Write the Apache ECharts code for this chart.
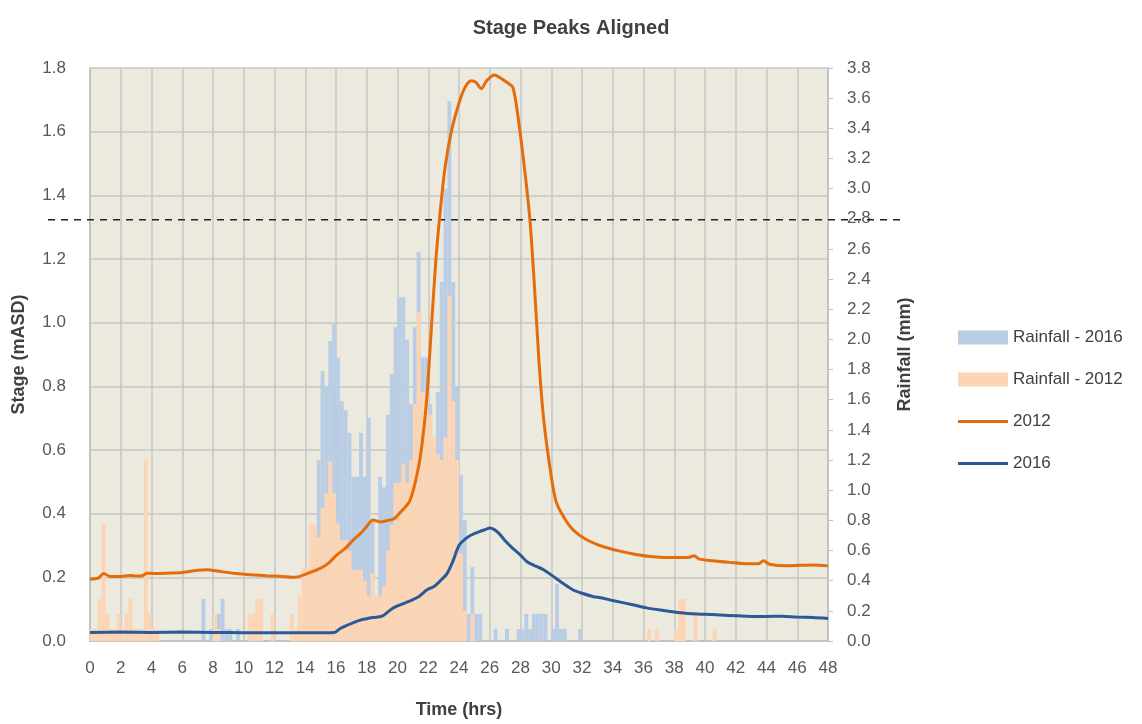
<!DOCTYPE html>
<html><head><meta charset="utf-8">
<script src="https://cdn.jsdelivr.net/npm/echarts@6/dist/echarts.min.js"></script>
<style>html,body{margin:0;padding:0;background:#fff}#c{width:1142px;height:724px}</style>
</head><body><div id="c"></div>
<script>
// ---- data ----
const rainStepHrs = 0.25; // each rainfall bar = 15 min
// Rainfall 2016 (mm per 15 min), one row per hour
const rain2016 = [
  0,0,0,0, 0,0,0,0, 0,0,0,0, 0,0,0,0, 0,0,0,0, 0,0,0,0, 0,0,0,0,
  0,0.28,0,0.08, 0,0.18,0.28,0.08, 0.08,0,0.08,0, 0,0,0,0, 0,0,0,0,
  0,0,0,0, 0,0,0,0, 0.2,0.5,0.7,1.2, 1.79,1.69,1.99,2.10, 1.88,1.59,1.53,1.38,
  1.09,1.09,1.38,1.09, 1.48,0.8,0.3,1.09, 1.02,1.5,1.77,2.08, 2.28,2.28,2.0,1.57,
  2.08,2.58,1.88,1.88, 1.57,1.1,1.65,2.38, 3.0,3.58,2.38,1.69, 1.1,0.8,0.18,0.49,
  0.18,0.18,0,0, 0,0.08,0,0, 0.08,0,0,0.08, 0.08,0.18,0.08,0.18, 0.18,0.18,0.18,0,
  0.08,0.38,0.08,0.08, 0,0,0,0.08,
  0,0,0,0, 0,0,0,0, 0,0,0,0, 0,0,0,0, 0,0,0,0, 0,0,0,0, 0,0,0,0, 0,0,0,0,
  0,0,0,0, 0,0,0,0, 0,0,0,0, 0,0,0,0, 0,0,0,0, 0,0,0,0, 0,0,0,0, 0,0,0,0
];
// Rainfall 2012 (mm per 15 min), one row per hour
const rain2012 = [
  0.08,0.08,0.28,0.78, 0.18,0.08,0.08,0.18, 0.08,0.18,0.28,0.08, 0.08,0.08,1.2,0.18,
  0.08,0.08,0,0, 0,0,0,0, 0,0,0,0, 0,0,0,0,
  0.18,0.08,0,0, 0,0,0,0, 0,0.18,0.18,0.28, 0.28,0,0,0.18, 0,0,0,0,
  0.18,0.08,0.3,0.49, 0.49,0.78,0.78,0.69, 0.88,0.98,1.19,0.98, 0.78,0.67,0.67,0.6,
  0.47,0.47,0.47,0.4, 0.3,0.45,0.3,0.3, 0.36,0.6,0.77,1.05, 1.05,1.17,1.05,1.2,
  1.57,2.18,1.65,1.65, 1.5,1.35,1.24,1.2, 1.35,2.29,1.59,1.2, 0.58,0.2,0,0.18,
  0,0,0,0, 0,0,0,0, 0,0,0,0, 0,0,0,0, 0,0,0,0, 0,0,0,0,
  0,0,0,0, 0,0,0,0, 0,0,0,0, 0,0,0,0, 0,0,0,0,
  0,0.08,0,0.08, 0,0,0,0, 0.08,0.28,0.28,0, 0,0.18,0,0, 0,0,0.08,0,
  0,0,0,0, 0,0,0,0, 0,0,0,0, 0,0,0,0, 0,0,0,0, 0,0,0,0, 0,0,0,0
];
// Stage 2012 (mASD)
const stageTime2012 = [0,0.5,0.9,1.3,2.0,2.6,3.0,3.4,3.7,4.2,5.0,6.0,7.0,7.6,8.5,9.5,10.5,11.5,12.5,13.3,14.2,15.0,15.5,16.0,16.6,17.1,17.6,18.0,18.4,18.9,19.3,19.8,20.2,20.8,21.3,21.6,21.9,22.2,22.5,22.8,23.1,23.5,24.0,24.4,24.8,25.1,25.45,25.8,26.3,26.8,27.2,27.5,27.8,28.2,28.6,28.9,29.2,29.5,29.9,30.3,30.8,31.4,32.3,33.4,34.4,35.5,36.6,38.0,39.0,39.3,39.6,40.5,41.6,42.7,43.5,43.8,44.2,45.3,46.2,47.0,48.0];
const stage2012 =     [0.195,0.197,0.212,0.203,0.203,0.206,0.204,0.205,0.213,0.212,0.213,0.215,0.222,0.224,0.218,0.212,0.208,0.205,0.203,0.200,0.213,0.229,0.244,0.268,0.291,0.316,0.338,0.36,0.38,0.374,0.378,0.385,0.405,0.44,0.53,0.62,0.76,0.98,1.2,1.36,1.49,1.60,1.69,1.74,1.76,1.755,1.735,1.76,1.778,1.765,1.752,1.74,1.66,1.51,1.33,1.12,0.88,0.70,0.55,0.44,0.39,0.35,0.318,0.296,0.283,0.272,0.265,0.262,0.263,0.268,0.258,0.252,0.247,0.243,0.243,0.252,0.241,0.236,0.238,0.239,0.236];
// Stage 2016 (mASD)
const stageTime2016 = [0,2,4,6,8,10,12,14,15.9,16.3,16.6,17.1,17.6,18.0,18.4,19.0,19.6,20.0,20.5,21.0,21.4,21.9,22.4,22.8,23.2,23.6,24.0,24.4,24.8,25.3,25.7,26.0,26.3,26.6,27.0,27.5,28.0,28.4,29.0,29.5,30.3,30.8,31.4,32.0,32.7,33.3,34.0,35.3,36.2,37.3,38.4,39.5,40.5,41.5,42.7,44.0,45.0,46.0,47.0,48.0];
const stage2016 =     [0.027,0.028,0.027,0.028,0.027,0.026,0.026,0.026,0.027,0.04,0.047,0.057,0.066,0.07,0.074,0.078,0.10,0.11,0.12,0.13,0.14,0.16,0.172,0.19,0.21,0.25,0.30,0.32,0.333,0.343,0.35,0.355,0.35,0.338,0.315,0.291,0.27,0.25,0.235,0.224,0.197,0.18,0.161,0.15,0.14,0.135,0.127,0.114,0.104,0.096,0.089,0.085,0.083,0.08,0.078,0.077,0.078,0.075,0.074,0.071];
const refRainfall = 2.8; // dashed reference level (mm)
const seriesNames = ['Rainfall - 2016','Rainfall - 2012','2012','2016'];

// ---- chart ----
const pairs = (xs, ys) => xs.map((x, i) => [x, ys[i]]);
const rainPairs = arr => arr.map((v, i) => [i * rainStepHrs + rainStepHrs / 2, v]);
const FONT = "'Liberation Sans', Arial, sans-serif";
const LBL = '#595959';
const LINE_ICON = 'path://M0,0 L50,0 L50,3 L0,3 Z';
const chart = echarts.init(document.getElementById('c'), null, {renderer: 'canvas'});
chart.setOption({
  animation: false,
  backgroundColor: '#ffffff',
  textStyle: {fontFamily: FONT},
  title: {text: 'Stage Peaks Aligned', left: 'center', top: 13,
    textStyle: {fontSize: 20, fontWeight: 'bold', color: '#404040', fontFamily: FONT}},
  legend: {
    data: [
      {name: seriesNames[0], icon: 'rect'},
      {name: seriesNames[1], icon: 'rect'},
      {name: seriesNames[2], icon: LINE_ICON},
      {name: seriesNames[3], icon: LINE_ICON}
    ],
    orient: 'vertical', left: 953, top: 324,
    itemWidth: 50, itemHeight: 14, itemGap: 25,
    textStyle: {fontSize: 17, color: '#404040', fontFamily: FONT}
  },
  grid: [
    {left: 90, right: 314, top: 68, bottom: 79, show: true, backgroundColor: '#ECEADF', borderWidth: 0},
    {left: 48, right: 237, top: 68, bottom: 79, show: false}
  ],
  xAxis: [
    {type: 'value', gridIndex: 0, min: 0, max: 48, interval: 2,
      name: 'Time (hrs)', nameLocation: 'middle', nameGap: 60,
      nameTextStyle: {fontSize: 18, fontWeight: 'bold', color: '#404040'},
      axisLine: {show: true, lineStyle: {color: '#BFBFBF', width: 1.5}},
      axisTick: {show: false},
      axisLabel: {color: LBL, fontSize: 17, margin: 19},
      splitLine: {show: true, lineStyle: {color: '#C6C6C6', width: 1.5}}},
    {type: 'value', gridIndex: 1, min: 0, max: 1, show: false}
  ],
  yAxis: [
    {type: 'value', gridIndex: 0, min: 0, max: 1.8, interval: 0.2, position: 'left',
      name: 'Stage (mASD)', nameLocation: 'middle', nameGap: 62,
      nameTextStyle: {fontSize: 18, fontWeight: 'bold', color: '#404040'},
      axisLine: {show: true, lineStyle: {color: '#BFBFBF', width: 1.5}},
      axisTick: {show: false},
      axisLabel: {color: LBL, fontSize: 17, margin: 24, formatter: v => v.toFixed(1)},
      splitLine: {show: true, lineStyle: {color: '#C6C6C6', width: 1.5}}},
    {type: 'value', gridIndex: 0, min: 0, max: 3.8, interval: 0.2, position: 'right',
      name: 'Rainfall (mm)', nameLocation: 'middle', nameGap: 68,
      nameTextStyle: {fontSize: 18, fontWeight: 'bold', color: '#404040'},
      axisLine: {show: true, lineStyle: {color: '#BFBFBF', width: 1.5}},
      axisTick: {show: true, length: 5, lineStyle: {color: '#BFBFBF'}},
      axisLabel: {color: LBL, fontSize: 17, margin: 19, formatter: v => v.toFixed(1)},
      splitLine: {show: false}},
    {type: 'value', gridIndex: 1, min: 0, max: 3.8, show: false}
  ],
  series: [
    {name: seriesNames[0], type: 'bar', xAxisIndex: 0, yAxisIndex: 1,
      data: rainPairs(rain2016), barWidth: 3.9, barGap: '-100%',
      itemStyle: {color: '#B9CDE5'}, z: 1},
    {name: seriesNames[1], type: 'bar', xAxisIndex: 0, yAxisIndex: 1,
      data: rainPairs(rain2012), barWidth: 3.9, barGap: '-100%',
      itemStyle: {color: '#FCD5B5'}, z: 2},
    {name: 'ref', type: 'line', xAxisIndex: 1, yAxisIndex: 2,
      data: [[0, refRainfall], [1, refRainfall]], symbol: 'none', silent: true,
      lineStyle: {color: '#222', width: 1.5, type: [7, 6]}, z: 3},
    {name: seriesNames[2], type: 'line', xAxisIndex: 0, yAxisIndex: 0,
      data: pairs(stageTime2012, stage2012), symbol: 'none', smooth: 0.3,
      lineStyle: {color: '#E46C0A', width: 3}, itemStyle: {color: '#E46C0A'}, z: 5},
    {name: seriesNames[3], type: 'line', xAxisIndex: 0, yAxisIndex: 0,
      data: pairs(stageTime2016, stage2016), symbol: 'none', smooth: 0.3,
      lineStyle: {color: '#2C5A94', width: 3}, itemStyle: {color: '#2C5A94'}, z: 5}
  ]
});
</script></body></html>
